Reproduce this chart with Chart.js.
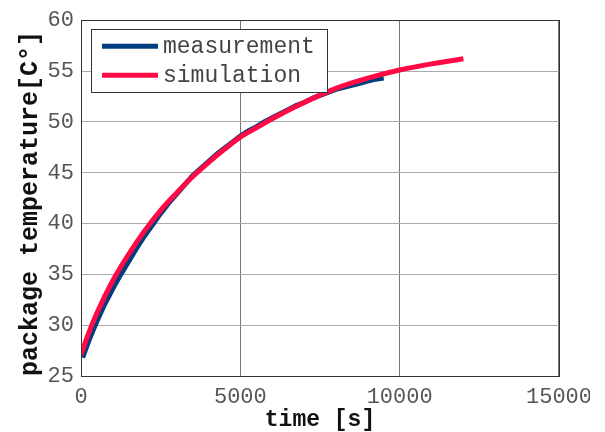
<!DOCTYPE html>
<html>
<head>
<meta charset="utf-8">
<script src="https://cdn.jsdelivr.net/npm/chart.js@4/dist/chart.umd.min.js"></script>
<style>
  html, body { margin: 0; padding: 0; background: #fff; }
  #clip { width: 590px; height: 432px; overflow: hidden; }
  #wrap { width: 600px; height: 432px; }
</style>
</head>
<body>
<div id="clip"><div id="wrap"><canvas id="chart-temp" width="600" height="432"></canvas></div></div>
<script>
// measured package temperature, s -> C
var measTime = [50, 250, 500, 750, 1000, 1250, 1500, 1750, 2000, 2250, 2500, 2750, 3000, 3250,
  3500, 3750, 4000, 4250, 4500, 4750, 5000, 5250, 5500, 5750, 6000, 6250, 6500, 6750, 7000,
  7250, 7500, 7750, 8000, 8250, 8500, 8750, 9000, 9250, 9500];
var measTemp = [26.8, 28.5, 30.4, 32.1, 33.6, 35.0, 36.3, 37.6, 38.8, 39.9, 41.0, 42.0, 42.9, 43.8,
  44.7, 45.4, 46.1, 46.8, 47.4, 48.0, 48.6, 49.1, 49.5, 50.0, 50.4, 50.8, 51.2, 51.6, 51.9,
  52.3, 52.6, 52.9, 53.2, 53.4, 53.6, 53.8, 54.0, 54.2, 54.3];

// simulated curve
var simTime = [0, 250, 500, 1000, 1500, 2000, 2500, 3000, 3500, 4000, 4500, 5000, 5500, 6000,
  7000, 8000, 9000, 10000, 11000, 12000];
var simTemp = [27.1, 29.3, 31.2, 34.4, 37.0, 39.3, 41.3, 43.0, 44.6, 46.0, 47.3, 48.5, 49.4, 50.3,
  51.9, 53.3, 54.3, 55.1, 55.7, 56.2];

var xTicks = [0, 5000, 10000, 15000];
var yTicks = [25, 30, 35, 40, 45, 50, 55, 60];

var FONT = "'Liberation Mono', 'Courier New', monospace";

function toPoints(xs, ys) {
  return xs.map((x, i) => ({ x: x, y: ys[i] }));
}

// box round the plot, like the matlab axes
var frame = {
  id: 'frame',
  afterDraw(chart) {
    var a = chart.chartArea, ctx = chart.ctx;
    ctx.save();
    ctx.strokeStyle = '#333';
    ctx.lineWidth = 1;
    ctx.strokeRect(Math.round(a.left) + 0.5, Math.round(a.top) + 0.5,
      Math.round(a.right - a.left), Math.round(a.bottom - a.top));
    ctx.restore();
  }
};

// legend box in the upper left corner of the plot
var boxLegend = {
  id: 'boxLegend',
  afterDraw(chart) {
    var ctx = chart.ctx, a = chart.chartArea;
    var x = a.left + 10, y = a.top + 9, w = 236, h = 63;
    ctx.save();
    ctx.fillStyle = '#fff';
    ctx.fillRect(x, y, w, h);
    ctx.strokeStyle = '#333';
    ctx.lineWidth = 1;
    ctx.strokeRect(Math.round(x) + 0.5, Math.round(y) + 0.5, w, h);
    ctx.font = '23px ' + FONT;
    ctx.textBaseline = 'middle';
    chart.data.datasets.forEach((ds, i) => {
      var ly = y + 17 + i * 29;
      ctx.strokeStyle = ds.borderColor;
      ctx.lineWidth = 5;
      ctx.beginPath();
      ctx.moveTo(x + 11, ly);
      ctx.lineTo(x + 67, ly);
      ctx.stroke();
      ctx.fillStyle = '#444';
      ctx.fillText(ds.label, x + 72, ly + 1);
    });
    ctx.restore();
  }
};

var chartTemp = new Chart(
  document.getElementById('chart-temp').getContext('2d'),
  { type: 'line',
    data: {
      datasets: [{
          label: 'measurement',
          data: toPoints(measTime, measTemp),
          borderColor: '#003f7f',
          borderWidth: 5,
          pointRadius: 0,
          tension: 0,
          order: 1
        },
        {
          label: 'simulation',
          data: toPoints(simTime, simTemp),
          borderColor: '#ff0a45',
          borderWidth: 5,
          pointRadius: 0,
          cubicInterpolationMode: 'monotone',
          order: 0
        }
      ]
    },
    options: {
      responsive: false,
      animation: false,
      layout: { padding: { top: 18, right: 40, left: 0, bottom: 0 } },
      plugins: {
        legend: { display: false },
        tooltip: { enabled: false }
      },
      scales: {
        x: {
          type: 'linear',
          min: 0,
          max: 15000,
          afterBuildTicks: (s) => { s.ticks = xTicks.map(v => ({ value: v })); },
          afterFit: (s) => { s.height = 56; },
          grid: { color: '#777', drawTicks: false },
          border: { display: false },
          ticks: {
            padding: 8,
            maxRotation: 0,
            color: '#555',
            font: { family: FONT, size: 22 },
            callback: (v) => String(v)
          },
          title: {
            display: true,
            text: 'time [s]',
            color: '#111',
            padding: { top: 0, bottom: 0 },
            font: { family: FONT, size: 23, weight: 'bold', lineHeight: 1 }
          }
        },
        y: {
          min: 25,
          max: 60,
          afterBuildTicks: (s) => { s.ticks = yTicks.map(v => ({ value: v })); },
          afterFit: (s) => { s.width = 81; },
          grid: { color: '#aaa', drawTicks: false },
          border: { display: false },
          ticks: {
            padding: 7,
            color: '#555',
            font: { family: FONT, size: 22 },
            callback: (v) => String(v)
          },
          title: {
            display: true,
            text: 'package temperature[C°]',
            align: 'start',
            color: '#111',
            padding: { top: 18, bottom: 0 },
            font: { family: FONT, size: 25, weight: 'bold', lineHeight: 1 }
          }
        }
      }
    },
    plugins: [frame, boxLegend]
  }
); /* <-- End 'chartTemp' */
</script>
</body>
</html>
